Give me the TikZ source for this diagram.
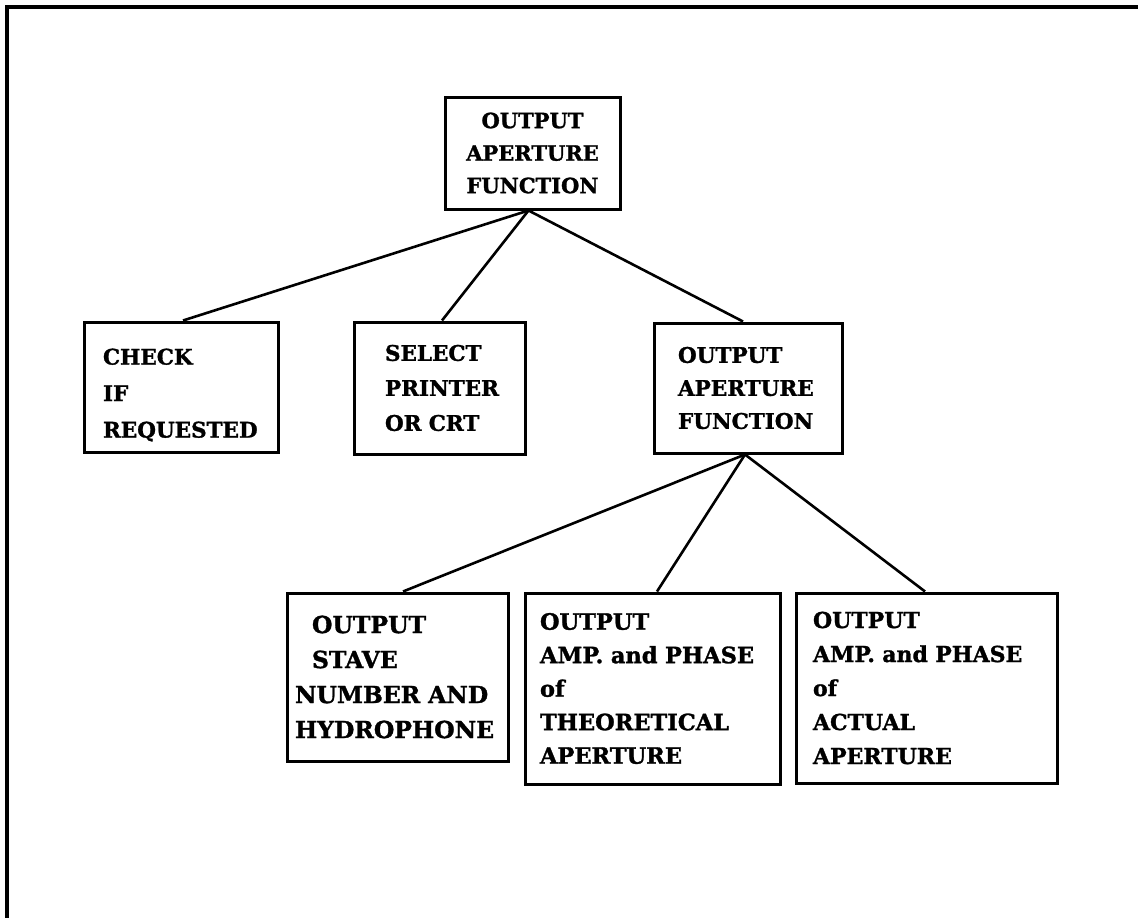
\documentclass[tikz,border=0pt]{standalone}
\usepackage{fontspec}
\setmainfont{DejaVu Serif}[BoldFeatures={FakeBold=1.3}]
% font size / line spacing for box labels
\newcommand{\lblfont}[2]{\bfseries\fontsize{#1}{#2}\selectfont}
\begin{document}
\begin{tikzpicture}[x=1pt,y=-1pt,
  frame/.style={line width=3.6pt},
  box/.style={draw, rectangle, line width=3pt, inner sep=0pt, align=left,
    font=\lblfont{22}{33}},
  link/.style={line width=2.6pt}]
\useasboundingbox (0,0) rectangle (1138,918);

% page frame (top and left edges)
\draw[frame] (7,918) -- (7,7) -- (1138,7);

% level 0
\node[box, align=center, minimum width=175pt, minimum height=112pt, text width=165pt,
  font=\lblfont{21}{32.5}] (top) at (532.5,153) {OUTPUT\\APERTURE\\FUNCTION};

% level 1
\node[box, minimum width=194pt, minimum height=130pt, text width=156pt,
  font=\lblfont{21.5}{36.5}] (check) at (181,387) {\rule{0pt}{32pt}CHECK\\IF\\REQUESTED};
\node[box, minimum width=171pt, minimum height=132pt, text width=109pt,
  font=\lblfont{21.5}{35}] (select) at (439.5,388) {SELECT\\PRINTER\\OR~CRT};
\node[box, minimum width=188pt, minimum height=130pt, text width=140pt,
  font=\lblfont{21.5}{33}] (mid) at (748,388) {OUTPUT\\APERTURE\\FUNCTION};

% level 2
\node[box, minimum width=221pt, minimum height=168pt, text width=205pt,
  font=\lblfont{23.5}{35}] (stave) at (397.5,677)
  {\hspace*{17pt}OUTPUT\\\hspace*{17pt}STAVE\\NUMBER~AND\\HYDROPHONE};
\node[box, minimum width=255pt, minimum height=191pt, text width=225pt,
  font=\lblfont{22.5}{33.5}] (theo) at (652.5,688.5) {OUTPUT\\AMP.~and~PHASE\\of\\THEORETICAL\\APERTURE};
\node[box, minimum width=261pt, minimum height=190pt, text width=227pt,
  font=\lblfont{22}{34}] (actual) at (926.5,688) {OUTPUT\\AMP.~and~PHASE\\of\\ACTUAL\\APERTURE};

% connectors
\draw[link] ([xshift=-4pt]top.south) -- ([xshift=2pt]check.north);
\draw[link] ([xshift=-4pt]top.south) -- ([xshift=2.5pt]select.north);
\draw[link] ([xshift=-4pt]top.south) -- ([xshift=-5pt]mid.north);
\draw[link] ([xshift=-3pt]mid.south) -- ([xshift=5.5pt]stave.north);
\draw[link] ([xshift=-3pt]mid.south) -- ([xshift=4.5pt]theo.north);
\draw[link] ([xshift=-3pt]mid.south) -- ([xshift=-1.5pt]actual.north);
\end{tikzpicture}
\end{document}
